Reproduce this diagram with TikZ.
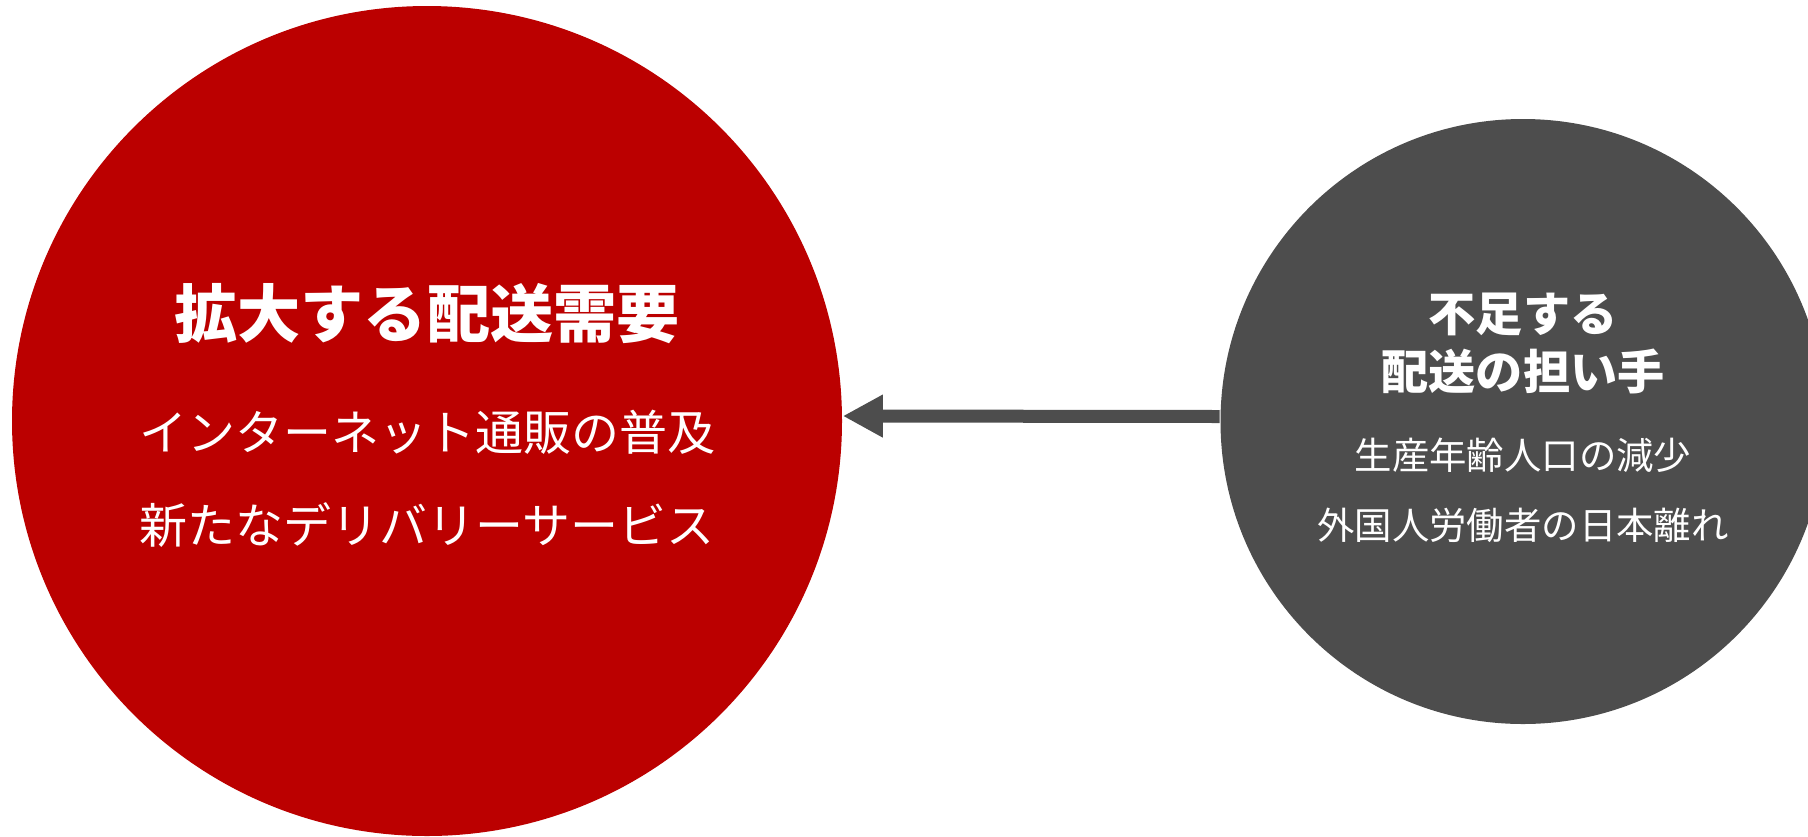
\documentclass[tikz,border=0pt]{standalone}
\usepackage{fontspec}
\setmainfont{Noto Sans CJK JP}
\usepackage{xcolor}
\usepackage{tikz}
\usetikzlibrary{arrows.meta}

\definecolor{demandred}{HTML}{BB0000}
\definecolor{shortgray}{HTML}{4D4D4D}

\begin{document}
\begin{tikzpicture}[x=0.25pt,y=-0.25pt,
		bubble/.style={circle,inner sep=0pt,draw=none},
		headline/.style={text=white,font=\bfseries},
		subline/.style={text=white}]
				\def \ra {207.5pt}
				\def \rb {151.25pt}

				\useasboundingbox (0,0) rectangle (1808,836);
				\clip (0,0) rectangle (1808,836);

				\node[bubble,fill=demandred,minimum size=\ra] (demand) at (427,421) {};
				\node[bubble,fill=shortgray,minimum size=\rb] (shortage) at (1523,421.5) {};

				\node[headline,font=\fontsize{15.8pt}{18pt}\bfseries] (demandtitle) at (427,314) {拡大する配送需要};
				\foreach \n\y\t in {ec/432/インターネット通販の普及,deliv/525/新たなデリバリーサービス} {
					\node[subline,font=\fontsize{12pt}{14pt}\selectfont] (\n) at (427,\y) {\t};
				}

				\node[headline,font=\fontsize{11.8pt}{14pt}\bfseries] (shorttitle) at (1523,314) {不足する};
				\node[headline,font=\fontsize{11.8pt}{14pt}\bfseries] (shorttitleb) at (1523,371) {配送の担い手};
				\foreach \n\y\t in {pop/455/生産年齢人口の減少,foreign/525/外国人労働者の日本離れ} {
					\node[subline,font=\fontsize{9.35pt}{11pt}\selectfont] (\n) at (1523,\y) {\t};
				}

				\draw[shortgray,line width=3.25pt,-{Triangle[length=10pt,width=10pt]}]
					([yshift=1.25pt]shortage.west) -- ([yshift=1.25pt]demand.east);
			\end{tikzpicture}
\end{document}
